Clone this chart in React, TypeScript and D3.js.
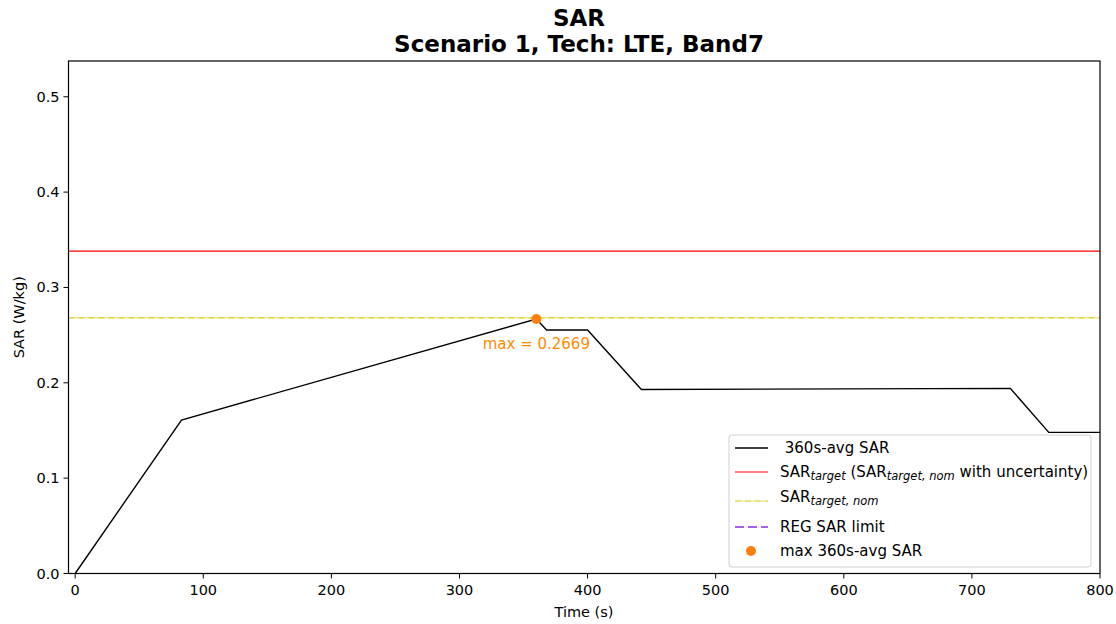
import React from "react";
import * as d3 from "d3";

const times = [0, 83, 360, 368, 400, 442, 730, 760, 800];
const sarAvg = [0, 0.161, 0.2669, 0.2553, 0.2553, 0.193, 0.1942, 0.148, 0.148];
const sarTarget = 0.338;
const sarTargetNom = 0.268;
const maxPoint = { t: 360, v: 0.2669 };
const xTicks = [0, 100, 200, 300, 400, 500, 600, 700, 800];
const yTicks = [0, 0.1, 0.2, 0.3, 0.4, 0.5];
const legendItems = [
  { kind: "black", label: " 360s-avg SAR" },
  { kind: "red", label: "target" },
  { kind: "nom", label: "nom" },
  { kind: "reg", label: "REG SAR limit" },
  { kind: "dot", label: "max 360s-avg SAR" },
];

const W = 1116, H = 624;
const L = 68.5, R = 1100, T = 61, B = 573.5;
const font = "DejaVu Sans, sans-serif";
const FS = 14.5;
const LFS = 15;

export default function App() {
  const x = d3.scaleLinear().domain([-5.2, 800]).range([L, R]);
  const y = d3.scaleLinear().domain([0, 0.5375]).range([B, T]);
  const line = d3.line<number>().x((_, i) => x(times[i])).y((d) => y(d));
  const lx = 729, ly = 435, lw = 362, lh = 132;
  const rowY = [448, 472, 501, 527, 551];
  const NomLine = ({ x1, x2, yy }: { x1: number; x2: number; yy: number }) => (
    <g>
      <line x1={x1} x2={x2} y1={yy} y2={yy} stroke="#ccd200" strokeWidth={1.2} strokeDasharray="6,4" />
      <line x1={x1} x2={x2} y1={yy} y2={yy} stroke="#ffa500" strokeWidth={1.2} strokeDasharray="4,6" strokeDashoffset={-6} opacity={0.45} />
    </g>
  );
  return (
    <svg width={W} height={H} style={{ position: "absolute", left: 0, top: 0, background: "#fff" }} fontFamily={font}>
      <text x={579} y={26} textAnchor="middle" fontSize={23} fontWeight="bold">SAR</text>
      <text x={579} y={52} textAnchor="middle" fontSize={23} fontWeight="bold">Scenario 1, Tech: LTE, Band7</text>
      <line x1={L} x2={R} y1={y(sarTarget)} y2={y(sarTarget)} stroke="#ff0000" strokeWidth={1.2} />
      <NomLine x1={L} x2={R} yy={y(sarTargetNom)} />
      <path d={line(sarAvg) || ""} fill="none" stroke="#000" strokeWidth={1.4} />
      <circle cx={x(maxPoint.t)} cy={y(maxPoint.v)} r={5} fill="#ff7f0e" />
      <text x={x(maxPoint.t)} y={y(maxPoint.v) + 30} textAnchor="middle" fontSize={15} fill="#ff8c00">{`max = ${maxPoint.v.toFixed(4)}`}</text>
      <rect x={L} y={T} width={R - L} height={B - T} fill="none" stroke="#000" strokeWidth={1.2} />
      {xTicks.map((t) => (
        <g key={t}>
          <line x1={x(t)} x2={x(t)} y1={B} y2={B + 5} stroke="#000" />
          <text x={x(t)} y={B + 21} textAnchor="middle" fontSize={FS}>{t}</text>
        </g>
      ))}
      {yTicks.map((t) => (
        <g key={t}>
          <line x1={L - 5} x2={L} y1={y(t)} y2={y(t)} stroke="#000" />
          <text x={L - 9} y={y(t) + 5} textAnchor="end" fontSize={FS}>{t.toFixed(1)}</text>
        </g>
      ))}
      <text x={584} y={617} textAnchor="middle" fontSize={FS}>Time (s)</text>
      <text transform={`translate(24,${(T + B) / 2}) rotate(-90)`} textAnchor="middle" fontSize={FS}>SAR (W/kg)</text>
      <rect x={lx} y={ly} width={lw} height={lh} rx={3} fill="#fff" fillOpacity={0.8} stroke="#d0d0d0" />
      {legendItems.map((it, i) => {
        const cy = rowY[i];
        let handle;
        if (it.kind === "black") handle = <line x1={735} x2={768} y1={cy} y2={cy} stroke="#000" strokeWidth={1.4} />;
        else if (it.kind === "red") handle = <line x1={735} x2={768} y1={cy} y2={cy} stroke="#ff0000" strokeWidth={1.2} />;
        else if (it.kind === "nom") handle = <NomLine x1={735} x2={768} yy={cy} />;
        else if (it.kind === "reg") handle = <line x1={735} x2={768} y1={cy} y2={cy} stroke="#8a2be2" strokeWidth={2.2} strokeDasharray="9,4" opacity={0.75} />;
        else handle = <circle cx={751} cy={cy} r={5} fill="#ff7f0e" />;
        let label;
        if (it.kind === "red") label = (
          <text x={780} y={cy + 5} fontSize={LFS}>SAR<tspan fontSize={11.5} fontStyle="italic" dy={3}>target</tspan><tspan dy={-3}> (SAR</tspan><tspan fontSize={11.5} fontStyle="italic" dy={3}>target, nom</tspan><tspan dy={-3}> with uncertainty)</tspan></text>
        );
        else if (it.kind === "nom") label = (
          <text x={780} y={cy + 1} fontSize={LFS}>SAR<tspan fontSize={11.5} fontStyle="italic" dy={3}>target, nom</tspan></text>
        );
        else label = <text x={780} y={cy + 5} fontSize={LFS} style={{ whiteSpace: "pre" }}>{it.label}</text>;
        return <g key={i}>{handle}{label}</g>;
      })}
    </svg>
  );
}
